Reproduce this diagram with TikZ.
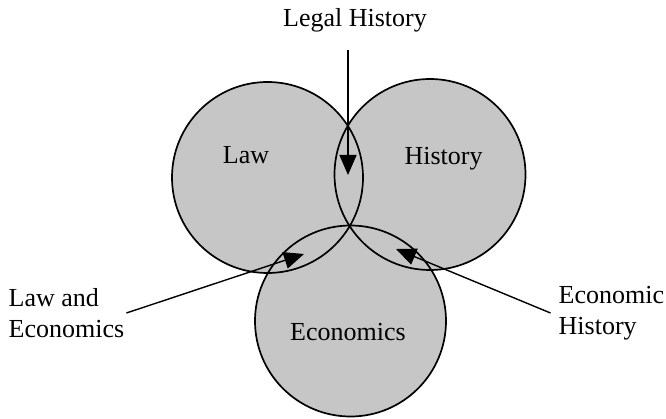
\documentclass[tikz,border=0pt]{standalone}
\usepackage{fontspec}
\setmainfont{Liberation Serif}
\usepackage{tikz}
\usetikzlibrary{arrows.meta, positioning, calc}
\definecolor{discgray}{HTML}{C6C6C6}

\begin{document}
\begin{tikzpicture}[
    x=1pt, y=-1pt,
    >={Triangle[length=20pt, width=17pt]},
    disc/.style={circle, fill=discgray, minimum size=191pt, inner sep=0pt, outer sep=0pt},
    rim/.style={line width=1.7pt, draw=black},
    label/.style={font=\fontsize{26}{31}\selectfont, inner sep=2pt, align=left},
    pointer/.style={->, line width=1.4pt}
]
\useasboundingbox (0,0) rectangle (666,419);

% Discs
\node[disc] (law) at (267.5, 177.5) {};
\node[disc] (history) at (430, 174.5) {};
\node[disc] (econ) at (350.5, 321) {};
\foreach \c in {law, history, econ}
    \draw[rim] (\c.center) circle[radius=95.5pt];

% Field names
\node[label, anchor=base] (lawtxt) at (246, 164) {Law};
\node[label, anchor=base] (histtxt) at (443.5, 165) {History};
\node[label, anchor=base] (econtxt) at (348, 340) {Economics};

% Overlap names
\node[label, anchor=base] (legal) at (355, 27) {Legal History};
\node[label, anchor=west] (lawecon) at (6.5, 313) {Law and\\Economics};
\node[label, anchor=west] (econhist) at (556.5, 313) {Economic\\History};

% Tips
\coordinate (lhtip) at (348, 175);
\coordinate (letip) at (304, 254);
\coordinate (ehtip) at (396, 249);

% Arrows
\draw[pointer, shorten <=15pt] (legal.south -| lhtip) -- (lhtip);
\draw[pointer] (lawecon.east) -- (letip);
\draw[pointer] ([xshift=-6pt]econhist.west) -- (ehtip);
\end{tikzpicture}
\end{document}
